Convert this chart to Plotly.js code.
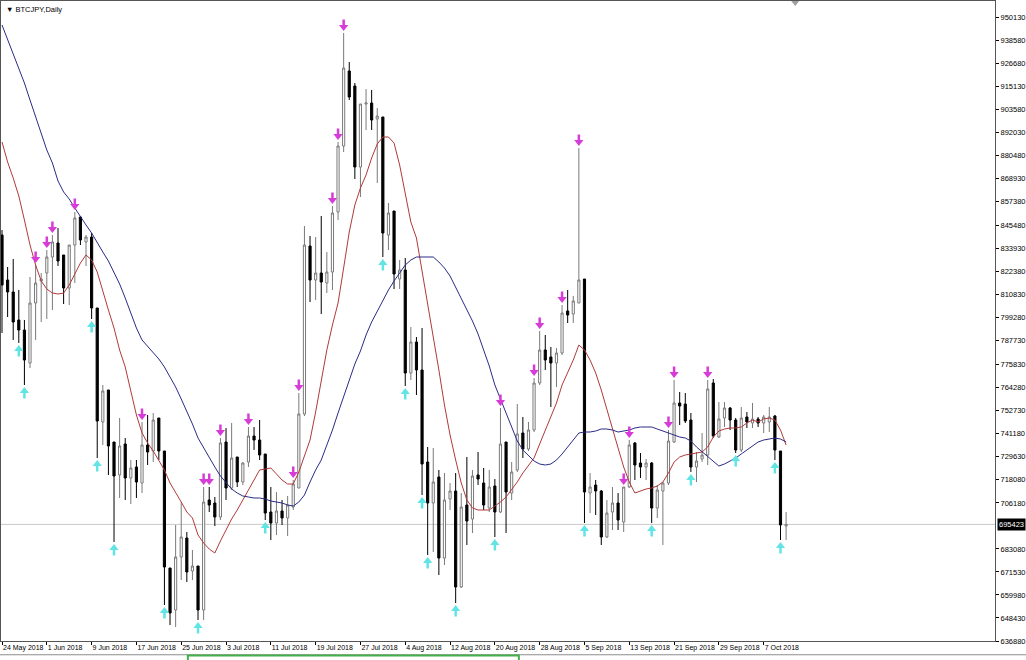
<!DOCTYPE html>
<html><head><meta charset="utf-8">
<script src="https://cdn.plot.ly/plotly-3.0.1.min.js"></script>
<style>html,body{margin:0;padding:0;background:#fff;overflow:hidden}#chart{width:1026px;height:660px}</style>
</head><body><div id="chart"></div>
<script>
const symbolName = 'BTCJPY,Daily';
const startDate = '2018-05-24';
const openP = [840694,818104,812080,798024,793004,776438,806558,817602,821618,829650,
836678,830654,814088,835674,849730,837180,839690,804048,746820,762884,
736780,720214,735776,718708,724230,716198,735274,732262,748828,732262,
673528,652444,679050,688588,672022,674532,652444,707664,706158,699130,
736780,713688,729250,716700,726740,739792,737784,730756,701640,696118,
702142,698628,704150,713688,750836,835172,818104,821618,816598,822120,
852240,885372,923022,915492,874830,906456,906958,898926,899930,840694,
852742,818606,823124,771418,786980,772924,726740,706158,719210,678548,
708166,712182,663990,705154,698126,720214,716198,703648,714692,701640,
736780,711178,722724,741298,733266,742804,766398,782964,779450,776438,
781458,802542,801036,806558,818606,711178,715194,712182,689090,701640,
706158,696620,714190,736278,726238,724230,726238,703648,712182,716198,
736780,756358,755856,747824,724230,728246,730254,766398,739290,748828,
753848,747824,732764,749330,746318,748326,746318,746820,749832,732262,
694612];
const highP = [843204,824630,828646,813084,798024,819610,825634,821618,833164,840694,
844208,830654,835674,852240,849730,840694,841698,804048,765394,762884,
736780,748828,738788,727744,727744,746820,750334,751338,748828,732262,
673528,695114,706660,691600,682564,674532,714190,714190,709170,738788,
743808,746318,729250,726740,744310,744310,747824,730756,714190,711680,
707664,709672,717704,761378,845212,840192,839690,850232,832160,855252,
887380,942098,927540,916998,906456,913986,913484,904448,899930,856758,
852742,828144,829148,794510,789490,794008,734270,733768,722724,721218,
716198,721218,711178,729250,722724,731760,723728,722724,718206,753848,
736780,726740,755856,749330,746820,768908,792502,790494,784470,783968,
805554,813084,810072,884368,818606,721218,717704,712684,707664,714190,
711178,714190,737784,736780,731258,728246,726740,715194,716700,742804,
767904,761880,761378,751338,731760,741298,767904,768406,756860,756860,
754350,748828,754350,751840,756358,749330,750334,754350,750334,732262,
701640];
const lowP = [791498,799530,787984,786478,765394,773928,787984,797020,798526,803044,
825132,806056,805554,816598,835674,825132,798526,728748,735274,720214,
686580,708668,707664,705656,708668,711178,725234,726740,727744,654954,
644914,643910,667504,666500,667504,647424,647424,701640,694612,697624,
707664,712684,714190,715194,724230,732764,727744,697624,687584,690094,
695114,689592,702644,713688,749832,807060,808064,801036,811578,813084,
848224,882360,908464,868806,859770,893404,893404,866798,829650,833164,
813586,813586,764892,767904,760374,710174,680054,681560,670014,675034,
702644,655958,663488,685074,691098,715194,702644,701640,689090,701138,
691098,707664,721720,728748,732262,741800,765394,772924,754350,764390,
780454,796518,796518,806558,696118,701138,700134,685074,688588,692604,
692604,691600,713688,717704,718708,717704,696118,698628,685074,715194,
736278,745314,746318,721720,716700,726740,725234,738788,738788,744310,
742804,731258,731760,743808,743808,744310,741298,741800,727744,687584,
687584];
const closeP = [815594,812080,797020,793004,777944,806558,816598,818606,829650,837180,
827642,814088,835674,849228,838184,839690,804048,747322,762382,734772,
719712,734772,718708,723728,716700,735274,731760,747824,732262,674030,
650938,679050,689090,671520,674532,652444,706660,705154,699130,736278,
713688,728748,716700,726238,739792,737784,730254,701138,696118,702142,
698628,705154,715696,750836,835674,818104,821618,817100,822120,851738,
885372,924528,909970,874830,906456,906958,898424,900432,841698,851738,
821116,823124,771418,786980,772924,725736,706158,716700,678548,707664,
712182,663990,704150,697122,719712,718206,705154,714190,701640,735776,
711680,721720,740796,733266,742804,766398,782964,777944,776438,781458,
801538,800534,807562,818104,711680,714190,712182,689090,701138,706158,
697624,714190,735274,725234,724230,726238,703648,712684,716198,737282,
756358,754852,747322,724230,727242,730254,763386,739792,748326,753848,
747824,732764,748828,746820,748326,746318,749330,749330,732764,695114,
695423];
// moving averages (fast = red, slow = blue)
const maFast = [887380,877340,869308,860272,848224,835674,825634,817602,813586,811578,
811076,811578,815594,821116,826638,830654,828144,822120,812080,803044,
794008,782964,774430,761880,750334,741298,736278,732262,727242,722724,
716198,711680,706660,701640,698628,690094,686078,683066,681058,687082,
692604,698126,702644,707664,712684,717704,722724,723226,723728,720716,
717704,715696,715696,721720,730254,737784,751840,767904,782964,795514,
806558,824128,842200,855754,864288,870814,879348,886376,889890,889890,
886878,875834,860774,847220,839188,823124,805554,790494,772924,755354,
740294,727744,716198,707664,703648,702644,702644,702644,704652,706660,
709170,712684,716700,721218,724732,728748,735776,742804,748828,756358,
765394,771920,777944,785474,782964,777944,771418,762884,752844,743808,
733768,724230,716700,711178,712182,713186,713688,714692,716700,721218,
726740,729250,730254,730756,731258,731760,734270,739290,742302,743306,
743808,743808,744310,746318,747824,746820,748326,748828,747824,742804,
735274];
const maSlow = [946114,939086,931556,924528,916998,908464,900432,891898,883364,876838,
867802,862280,858766,854248,849730,845714,841698,836678,832160,827642,
822120,816096,809068,801538,794008,787984,784972,781960,778446,774430,
769410,764390,758366,752342,745816,738788,733768,729250,724230,719712,
716198,713186,711178,709672,709170,708668,708668,708166,707162,706660,
706158,705154,704652,706660,710174,716700,722724,727744,734772,742804,
751338,759370,767904,775936,782462,790494,797020,802542,808064,813084,
817602,821618,825634,828144,829650,829650,829650,829650,827140,824128,
820112,814590,809068,803546,797522,790996,783466,774932,765394,758366,
751840,744310,737282,732764,729752,727242,725736,725234,725736,727744,
730756,734270,737784,741298,741800,741800,742302,743306,743306,742804,
741800,742302,742804,743808,744310,744310,744310,743306,742302,741298,
740294,739290,738788,737282,734270,731760,729250,727242,724732,725736,
727242,728748,730756,732764,734772,736780,737784,738286,738788,738286,
736780];
// fractal arrows (candle index)
const fractalDown = [6,8,9,13,25,36,37,39,44,52,53,59,60,61,89,95,96,100,103,111,112,119,120,126];
const fractalUp = [3,4,16,17,20,29,35,47,68,72,75,76,81,88,104,116,123,131,138,139];
// axis labels
const yTickVals = [950130,938580,926680,915130,903580,892030,880480,868930,857380,845480,833930,822380,810830,799280,787730,775830,764280,752730,741180,729630,718080,706180,683080,671530,659980,648430,636880];
const xTickDates = ['2018-05-24','2018-06-01','2018-06-09','2018-06-17','2018-06-25','2018-07-03','2018-07-11','2018-07-19','2018-07-27','2018-08-04','2018-08-12','2018-08-20','2018-08-28','2018-09-05','2018-09-13','2018-09-21','2018-09-29','2018-10-07'];
const xTickLabels = ['24 May 2018','1 Jun 2018','9 Jun 2018','17 Jun 2018','25 Jun 2018','3 Jul 2018','11 Jul 2018','19 Jul 2018','27 Jul 2018','4 Aug 2018','12 Aug 2018','20 Aug 2018','28 Aug 2018','5 Sep 2018','13 Sep 2018','21 Sep 2018','29 Sep 2018','7 Oct 2018'];

const DAY = 86400000;
const PXY = 502; // yen per pixel on the price scale
const t0 = Date.parse(startDate + 'T00:00:00Z');
const fmt = ms => new Date(ms).toISOString().replace('T',' ').slice(0,19);
const dates = openP.map((_, i) => fmt(t0 + i * DAY));
const lastClose = closeP[closeP.length - 1];
const magenta = '#d83cd8', aqua = '#62e4e4';

const dnX = fractalDown.map(i => dates[i]);
const upX = fractalUp.map(i => dates[i]);

const traces = [
  {type:'candlestick', x:dates, open:openP, high:highP, low:lowP, close:closeP,
   increasing:{line:{color:'#7a7a7a', width:1}, fillcolor:'#ffffff'},
   decreasing:{line:{color:'#000000', width:1}, fillcolor:'#000000'},
   whiskerwidth:0, hoverinfo:'skip', showlegend:false},
  {type:'scatter', mode:'lines', x:dates, y:maFast, line:{color:'#b03a3a', width:1}, hoverinfo:'skip'},
  {type:'scatter', mode:'lines', x:dates, y:maSlow, line:{color:'#2b2b86', width:1}, hoverinfo:'skip'},
  // down arrows: stem + head
  {type:'scatter', mode:'markers', x:dnX, y:fractalDown.map(i => highP[i] + 10*PXY),
   marker:{symbol:'line-ns', size:5, line:{color:magenta, width:2.5}}, hoverinfo:'skip'},
  {type:'scatter', mode:'markers', x:dnX, y:fractalDown.map(i => highP[i] + 6*PXY),
   marker:{symbol:'triangle-down', size:8, color:magenta, line:{width:0}}, hoverinfo:'skip'},
  // up arrows: stem + head
  {type:'scatter', mode:'markers', x:upX, y:fractalUp.map(i => lowP[i] - 10*PXY),
   marker:{symbol:'line-ns', size:5, line:{color:aqua, width:2.5}}, hoverinfo:'skip'},
  {type:'scatter', mode:'markers', x:upX, y:fractalUp.map(i => lowP[i] - 6*PXY),
   marker:{symbol:'triangle-up', size:8, color:aqua, line:{width:0}}, hoverinfo:'skip'}
];

const tickFont = {family:'Liberation Sans, Arial, sans-serif', size:7.5, color:'#000'};

const layout = {
  width:1026, height:660,
  margin:{l:1, r:31, t:1, b:19, pad:0},
  paper_bgcolor:'#ffffff', plot_bgcolor:'#ffffff',
  showlegend:false, boxgap:0.45,
  font: tickFont,
  xaxis:{type:'date', range:[fmt(t0 - 0.18*DAY), fmt(t0 + 177.3*DAY)],
    tickmode:'array', tickvals:xTickDates, ticktext:xTickLabels, tickangle:0,
    ticklabelposition:'outside right', ticks:'outside', ticklen:3, tickcolor:'#000',
    tickfont:{family:'Liberation Sans, Arial, sans-serif', size:7, color:'#000'},
    showgrid:false, zeroline:false, showline:true, linecolor:'#555', mirror:true,
    rangeslider:{visible:false}, fixedrange:true},
  yaxis:{side:'right', range:[636880, 958160], tickmode:'array', tickvals:yTickVals,
    ticktext:yTickVals.map(String), ticks:'outside', ticklen:3, tickcolor:'#000',
    tickfont:tickFont,
    showgrid:false, zeroline:false, showline:true, linecolor:'#555', mirror:true, fixedrange:true},
  shapes:[
    {type:'line', xref:'paper', yref:'y', x0:0, x1:1, y0:lastClose, y1:lastClose, line:{color:'#c8c8c8', width:1}, layer:'below'},
    {type:'path', xref:'paper', yref:'paper', path:'M 0.795,1 L 0.803,1 L 0.799,0.992 Z', fillcolor:'#a0a0a0', line:{width:0}},
    {type:'line', xref:'paper', yref:'paper', x0:-0.002, x1:1.032, y0:-0.0215, y1:-0.0215, line:{color:'#8c8c8c', width:1}},
    {type:'rect', xref:'paper', yref:'paper', x0:0.188, x1:0.521, y0:-0.0225, y1:-0.032, line:{color:'#45b04a', width:2}, fillcolor:'#ffffff'}
  ],
  annotations:[
    {xref:'paper', yref:'y', x:1, y:lastClose, xanchor:'left', yanchor:'middle', xshift:2,
     text:String(lastClose), showarrow:false, bgcolor:'#000000', borderpad:1,
     font:{family:'Liberation Sans, Arial, sans-serif', size:7.5, color:'#ffffff'}},
    {xref:'paper', yref:'paper', x:0, y:1, xanchor:'left', yanchor:'top', xshift:3, yshift:-2,
     text:'▼ ' + symbolName, showarrow:false,
     font:{family:'Liberation Sans, Arial, sans-serif', size:7.5, color:'#000'}}
  ]
};

Plotly.newPlot('chart', traces, layout, {staticPlot:true, displayModeBar:false});
</script></body></html>
